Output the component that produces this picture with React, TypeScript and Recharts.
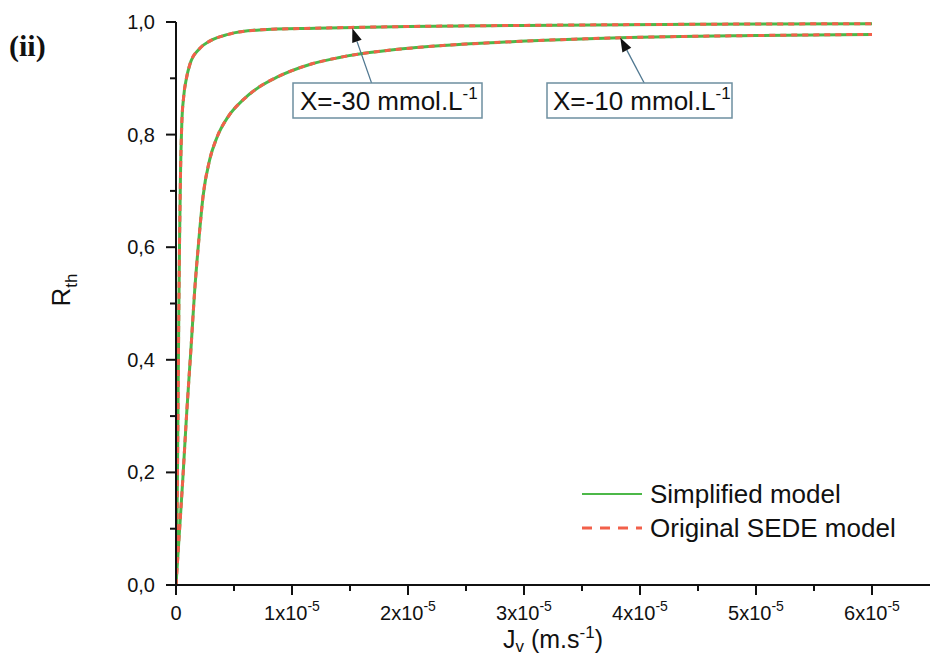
import React from 'react';
import { LineChart, Line, XAxis, YAxis, ReferenceLine, Legend } from 'recharts';

// Jv in units of 1e-5 m.s-1, R_th dimensionless
const jvX30 = [0, 0.008, 0.015, 0.02, 0.025, 0.03, 0.038, 0.05, 0.065, 0.09, 0.12, 0.2, 0.29, 0.45, 0.72, 1.2, 2, 3, 4.5, 6];
const rX30 = [0, 0.1, 0.25, 0.38, 0.5, 0.6, 0.72, 0.82, 0.865, 0.9, 0.925, 0.952, 0.966, 0.978, 0.986, 0.989, 0.992, 0.994, 0.996, 0.997];

const jvX10 = [0, 0.025, 0.058, 0.092, 0.13, 0.16, 0.2, 0.233, 0.29, 0.353, 0.45, 0.58, 0.72, 0.87, 1.16, 1.41, 2.1, 2.8, 3.83, 5, 6];
const rX10 = [0, 0.08, 0.186, 0.305, 0.423, 0.52, 0.62, 0.69, 0.755, 0.795, 0.832, 0.862, 0.885, 0.902, 0.925, 0.937, 0.955, 0.964, 0.972, 0.976, 0.978];

const xTicks = [0, 0.5, 1, 1.5, 2, 2.5, 3, 3.5, 4, 4.5, 5, 5.5, 6];
const yTicks = [0, 0.1, 0.2, 0.3, 0.4, 0.5, 0.6, 0.7, 0.8, 0.9, 1];

const GREEN = '#4cb848';
const RED = '#f2604a';
const AXIS = '#111';
const FONT = '"Liberation Sans", Arial, sans-serif';

const toPoints = (xs: number[], ys: number[]) => xs.map((jv, i) => ({ jv, r: ys[i] }));
const simplified30 = toPoints(jvX30, rX30);
const simplified10 = toPoints(jvX10, rX10);
const original30 = toPoints(jvX30, rX30);
const original10 = toPoints(jvX10, rX10);

const XTick = ({ x, y, payload }: any) => {
  const v = payload.value;
  const major = Math.abs(v - Math.round(v)) < 1e-6;
  return (
    <g>
      <line x1={x} y1={y} x2={x} y2={y + (major ? 10 : 6)} stroke={AXIS} strokeWidth={2} />
      {major && (
        <text x={x} y={y + 35} textAnchor="middle" fontSize={20} fontFamily={FONT} fill="#111">
          {v === 0 ? '0' : `${v}x10`}
          {v !== 0 && <tspan dy={-9} fontSize={14}>-5</tspan>}
        </text>
      )}
    </g>
  );
};

const YTick = ({ x, y, payload }: any) => {
  const v = payload.value;
  const major = Math.round(v * 10) % 2 === 0;
  return (
    <g>
      <line x1={x} y1={y} x2={x - (major ? 10 : 6)} y2={y} stroke={AXIS} strokeWidth={2} />
      {major && (
        <text x={x - 21} y={y + 7} textAnchor="end" fontSize={20} fontFamily={FONT} fill="#111">
          {v.toFixed(1).replace('.', ',')}
        </text>
      )}
    </g>
  );
};

const Arrow = (props: any) => {
  const { x1, y1, x2, y2 } = props;
  const dx = x2 - x1;
  const dy = y2 - y1;
  const len = Math.sqrt(dx * dx + dy * dy) || 1;
  const ux = dx / len;
  const uy = dy / len;
  const bx = x2 - ux * 14;
  const by = y2 - uy * 14;
  const head = `${x2},${y2} ${bx - uy * 5},${by + ux * 5} ${bx + uy * 5},${by - ux * 5}`;
  return (
    <g>
      <line x1={x1} y1={y1} x2={bx} y2={by} stroke="#4f7790" strokeWidth={1.3} />
      <polygon points={head} fill="#111" />
    </g>
  );
};

const LegendContent = () => (
  <svg width={340} height={70}>
    <line x1={7} y1={16} x2={67} y2={16} stroke={GREEN} strokeWidth={2} />
    <text x={75} y={25} fontSize={26} fontFamily={FONT} fill="#111">Simplified model</text>
    <line x1={7} y1={50} x2={67} y2={50} stroke={RED} strokeWidth={3} strokeDasharray="10 8" />
    <text x={75} y={59} fontSize={26} fontFamily={FONT} fill="#111">Original SEDE model</text>
  </svg>
);

export default function App() {
  return (
    <div style={{ position: 'absolute', left: 0, top: 0, width: 930, height: 657, background: '#fff' }}>
      <LineChart width={930} height={657} margin={{ top: 22, right: 0, bottom: 0, left: 0 }}>
        <XAxis
          type="number"
          dataKey="jv"
          domain={[0, 6.5]}
          ticks={xTicks}
          interval={0}
          height={72}
          tickSize={0}
          tickMargin={0}
          tick={<XTick />}
          axisLine={{ stroke: AXIS, strokeWidth: 2 }}
          allowDataOverflow
        />
        <YAxis
          type="number"
          dataKey="r"
          domain={[0, 1]}
          ticks={yTicks}
          interval={0}
          width={176}
          tickSize={0}
          tickMargin={0}
          tick={<YTick />}
          axisLine={{ stroke: AXIS, strokeWidth: 2 }}
          allowDataOverflow
        />
        <Line data={simplified30} dataKey="r" name="Simplified model" type="monotone" stroke={GREEN} strokeWidth={3} dot={false} isAnimationActive={false} />
        <Line data={simplified10} dataKey="r" name="Simplified model " type="monotone" stroke={GREEN} strokeWidth={3} dot={false} legendType="none" isAnimationActive={false} />
        <Line data={original30} dataKey="r" name="Original SEDE model" type="monotone" stroke={RED} strokeWidth={3} strokeDasharray="6 5" dot={false} isAnimationActive={false} />
        <Line data={original10} dataKey="r" name="Original SEDE model " type="monotone" stroke={RED} strokeWidth={3} strokeDasharray="6 5" dot={false} legendType="none" isAnimationActive={false} />
        <ReferenceLine segment={[{ x: 1.687, y: 0.891 }, { x: 1.52, y: 0.989 }]} shape={<Arrow />} ifOverflow="visible" />
        <ReferenceLine segment={[{ x: 4.043, y: 0.889 }, { x: 3.83, y: 0.972 }]} shape={<Arrow />} ifOverflow="visible" />
        <Legend
          layout="vertical"
          align="center"
          verticalAlign="middle"
          content={<LegendContent />}
          wrapperStyle={{ position: 'absolute', left: 575, top: 478, width: 340, height: 70 }}
        />
      </LineChart>
      <svg width={930} height={657} style={{ position: 'absolute', left: 0, top: 0, pointerEvents: 'none' }}>
        <text x={9} y={56} fontSize={30} fontWeight="bold" fontFamily='"Liberation Serif", "Times New Roman", serif' fill="#111">(ii)</text>
        <rect x={293} y={83} width={189} height={35} fill="#fff" stroke="#6d8fa0" strokeWidth={1.5} />
        <text x={300} y={110} fontSize={26} fontFamily={FONT} fill="#111">
          X=-30 mmol.L<tspan dy={-11} fontSize={17}>-1</tspan>
        </text>
        <rect x={547} y={83} width={185} height={35} fill="#fff" stroke="#6d8fa0" strokeWidth={1.5} />
        <text x={553} y={110} fontSize={26} fontFamily={FONT} fill="#111">
          X=-10 mmol.L<tspan dy={-11} fontSize={17}>-1</tspan>
        </text>
        <text transform="translate(70, 290) rotate(-90)" textAnchor="middle" fontSize={26} fontFamily={FONT} fill="#111">
          R<tspan dy={7} fontSize={17}>th</tspan>
        </text>
        <text x={503} y={648} fontSize={25} fontFamily={FONT} fill="#111">
          J<tspan dy={4} fontSize={17}>v</tspan>
          <tspan dy={-4}> (m.s</tspan>
          <tspan dy={-10} fontSize={17}>-1</tspan>
          <tspan dy={10}>)</tspan>
        </text>
      </svg>
    </div>
  );
}
